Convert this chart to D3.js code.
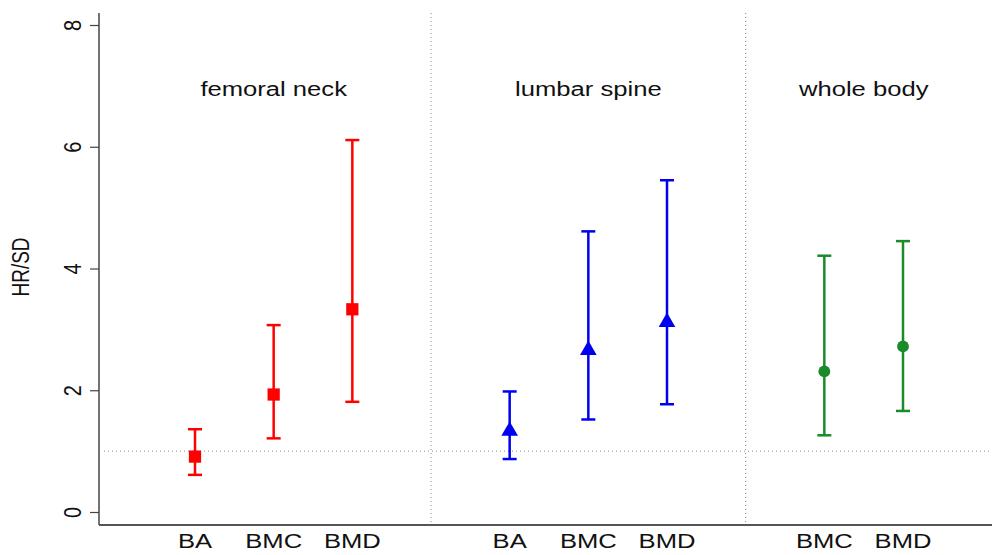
<!DOCTYPE html>
<html>
<head>
<meta charset="utf-8">
<script src="https://cdn.jsdelivr.net/npm/d3@7"></script>
<style>
  body { margin: 0; background: #fff; }
  text { font-family: "Liberation Sans", Arial, sans-serif; fill: #111; }
</style>
</head>
<body>
<svg id="chart" width="992" height="555"></svg>
<script>
// categories (slot index on the x axis, gaps at 3 and 7)
const labels = ["BA", "BMC", "BMD", "BA", "BMC", "BMD", "BMC", "BMD"];
const slots  = [0, 1, 2, 4, 5, 6, 8, 9];
const sites  = ["femoral neck", "femoral neck", "femoral neck",
                "lumbar spine", "lumbar spine", "lumbar spine",
                "whole body", "whole body"];

// HR per SD with 95% CI
const hr    = [0.91, 1.93, 3.33, 1.33, 2.66, 3.12, 2.31, 2.72];
const lower = [0.61, 1.21, 1.81, 0.87, 1.52, 1.77, 1.26, 1.66];
const upper = [1.36, 3.07, 6.11, 1.98, 4.61, 5.45, 4.21, 4.45];

const groupNames  = ["femoral neck", "lumbar spine", "whole body"];
const groupCenter = [1, 5, 8.5];
const dividers    = [3, 7];
const yTicks      = [0, 2, 4, 6, 8];
const refLine     = 1;

const color = (site) => {
  switch (site) {
    case "femoral neck": return "#ff0000";
    case "lumbar spine": return "#0000ee";
    default: return "#1b8a2a";
  }
};

// the original figure is a bit stretched horizontally
const sx = 1.22;

const svg = d3.select("#chart");

const x = d3.scaleLinear().domain([0, 9]).range([195, 903]);
const y = d3.scaleLinear().domain([0, 8]).range([512, 25]);

const mLeft = 99, mBottom = 525, mTop = 13, mRight = 992;

// reference line at HR = 1
svg.append("line")
  .attr("x1", mLeft + 5).attr("x2", mRight)
  .attr("y1", y(refLine)).attr("y2", y(refLine))
  .style("stroke", "#888")
  .style("stroke-width", 1)
  .style("stroke-dasharray", "1,3");

// dividers between sites
svg.selectAll(".divider")
  .data(dividers)
  .enter().append("line")
  .attr("class", "divider")
  .attr("x1", d => x(d)).attr("x2", d => x(d))
  .attr("y1", mTop).attr("y2", mBottom)
  .style("stroke", "#888")
  .style("stroke-width", 1)
  .style("stroke-dasharray", "1,3");

// y axis
const yAxis = svg.append("g")
  .attr("transform", "translate(" + mLeft + ",0)")
  .call(d3.axisLeft(y).tickValues(yTicks).tickSize(9).tickSizeOuter(0));
yAxis.select(".domain").remove();
yAxis.append("line")
  .attr("x1", 0).attr("x2", 0)
  .attr("y1", mTop).attr("y2", mBottom)
  .style("stroke", "#444").style("stroke-width", 1.5);
yAxis.selectAll(".tick line").style("stroke", "#444").style("stroke-width", 1.2);
yAxis.selectAll(".tick text")
  .style("font-size", "20px")
  .attr("text-anchor", "middle")
  .attr("x", 0)
  .attr("y", 0)
  .attr("dy", "0.35em")
  .attr("transform", "translate(-27,0) scale(" + sx + ",1) rotate(-90)");

// x axis line
svg.append("line")
  .attr("x1", mLeft).attr("x2", mRight)
  .attr("y1", mBottom).attr("y2", mBottom)
  .style("stroke", "#555").style("stroke-width", 2);

// x category labels
svg.selectAll(".xlab")
  .data(labels)
  .enter().append("text")
  .attr("class", "xlab")
  .attr("transform", (d, i) => "translate(" + x(slots[i]) + ",548) scale(" + sx + ",1)")
  .attr("text-anchor", "middle")
  .style("font-size", "21px")
  .text(d => d);

// y axis title
svg.append("text")
  .attr("transform", "translate(29,267) scale(" + sx + ",1) rotate(-90)")
  .attr("text-anchor", "middle")
  .style("font-size", "19px")
  .text("HR/SD");

// site titles
svg.selectAll(".site")
  .data(groupNames)
  .enter().append("text")
  .attr("class", "site")
  .attr("transform", (d, i) => "translate(" + x(groupCenter[i]) + ",96) scale(" + sx + ",1)")
  .attr("text-anchor", "middle")
  .style("font-size", "21px")
  .text(d => d);

// error bars
const bars = svg.selectAll(".bar")
  .data(hr)
  .enter().append("g")
  .attr("class", "bar")
  .style("stroke", (d, i) => color(sites[i]))
  .style("stroke-width", 2.5);

bars.append("line")
  .attr("x1", (d, i) => x(slots[i])).attr("x2", (d, i) => x(slots[i]))
  .attr("y1", (d, i) => y(lower[i])).attr("y2", (d, i) => y(upper[i]));
bars.append("line")
  .attr("x1", (d, i) => x(slots[i]) - 7).attr("x2", (d, i) => x(slots[i]) + 7)
  .attr("y1", (d, i) => y(lower[i])).attr("y2", (d, i) => y(lower[i]));
bars.append("line")
  .attr("x1", (d, i) => x(slots[i]) - 7).attr("x2", (d, i) => x(slots[i]) + 7)
  .attr("y1", (d, i) => y(upper[i])).attr("y2", (d, i) => y(upper[i]));

// point markers
const shape = (site) => {
  switch (site) {
    case "femoral neck": return d3.symbolSquare;
    case "lumbar spine": return d3.symbolTriangle;
    default: return d3.symbolCircle;
  }
};
const size = (site) => {
  switch (site) {
    case "femoral neck": return 150;
    case "lumbar spine": return 120;
    default: return 110;
  }
};

svg.selectAll(".pt")
  .data(hr)
  .enter().append("path")
  .attr("class", "pt")
  .attr("d", (d, i) => d3.symbol().type(shape(sites[i])).size(size(sites[i]))())
  .attr("transform", (d, i) => "translate(" + x(slots[i]) + "," + y(d) + ")")
  .style("fill", (d, i) => color(sites[i]));
</script>
</body>
</html>
